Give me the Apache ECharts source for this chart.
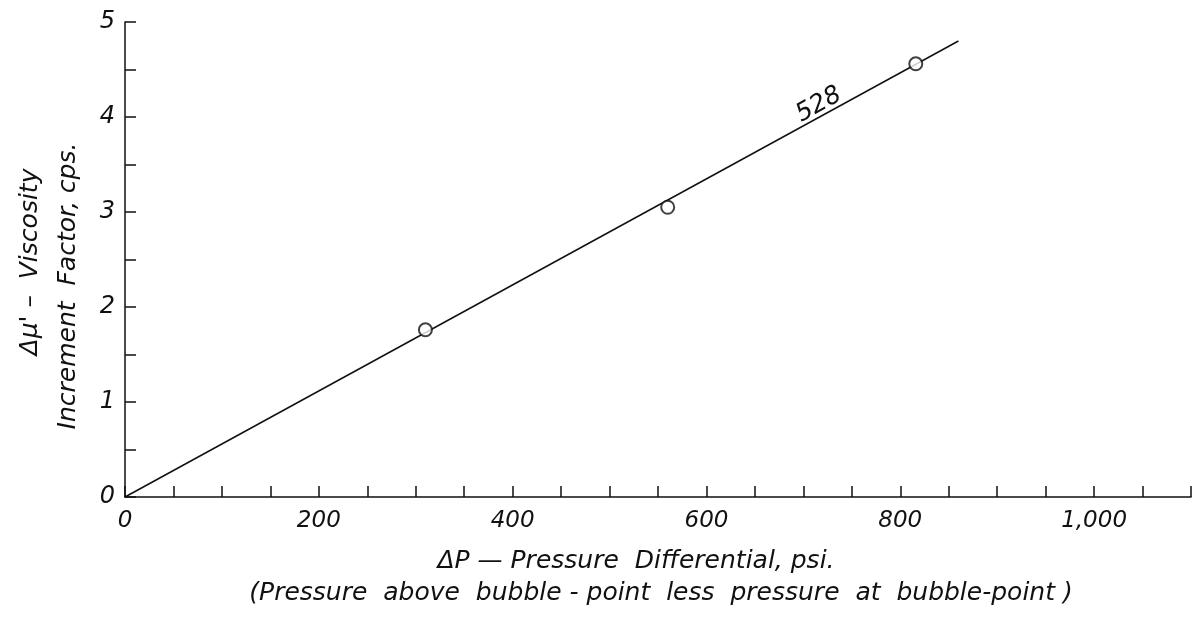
<!DOCTYPE html>
<html>
<head>
<meta charset="utf-8">
<script src="https://cdn.jsdelivr.net/npm/echarts@6/dist/echarts.min.js"></script>
<style>
html,body{margin:0;padding:0;background:#fff;}
#chart{width:1194px;height:617px;}
</style>
</head>
<body>
<div id="chart"></div>
<script>
// measured points (pressure differential psi, viscosity increment cps)
const pressure = [310, 560, 816]
const viscosity = [1.76, 3.05, 4.56]
// fitted line drawn through the origin
const fitX = [0, 860]
const fitY = [0, 4.8]
const fitName = '528'
const fitLabelAt = [716, 4.13]

const xTicks = [0, 200, 400, 600, 800, 1000]
const xTickText = ['0', '200', '400', '600', '800', '1,000']
const yTicks = [0, 1, 2, 3, 4, 5]

const hand = 'DejaVu Sans'
const ink = '#111'
const titleFont = 'italic 25px "DejaVu Sans"'

let chart = echarts.init(document.getElementById('chart'))
let options = {
  backgroundColor: '#fff',
  animation: false,
  grid: { left: 125, right: 2, top: 22, bottom: 120 },
  xAxis: {
    type: 'value',
    min: 0,
    max: 1100,
    interval: 50,
    axisLine: { show: true, onZero: false, lineStyle: { color: ink, width: 1.5 } },
    axisTick: { show: true, inside: true, length: 11, lineStyle: { color: ink, width: 1.5 } },
    splitLine: { show: false },
    axisLabel: {
      margin: 13,
      color: ink,
      fontFamily: hand,
      fontStyle: 'italic',
      fontSize: 23,
      showMaxLabel: true,
      formatter: (v) => {
        let i = xTicks.indexOf(v)
        return i >= 0 ? xTickText[i] : ''
      }
    }
  },
  yAxis: {
    type: 'value',
    min: 0,
    max: 5,
    interval: 0.5,
    axisLine: { show: true, onZero: false, lineStyle: { color: ink, width: 1.5 } },
    axisTick: { show: true, inside: true, length: 11, lineStyle: { color: ink, width: 1.5 } },
    splitLine: { show: false },
    axisLabel: {
      margin: 10,
      color: ink,
      fontFamily: hand,
      fontStyle: 'italic',
      fontSize: 24,
      formatter: (v) => yTicks.includes(v) ? String(v) : ''
    }
  },
  graphic: [
    {
      type: 'text', x: 30, y: 262, rotation: Math.PI / 2,
      style: { text: "Δμ' –  Viscosity", fill: ink, font: titleFont, align: 'center', verticalAlign: 'middle' }
    },
    {
      type: 'text', x: 68, y: 286, rotation: Math.PI / 2,
      style: { text: 'Increment  Factor, cps.', fill: ink, font: titleFont, align: 'center', verticalAlign: 'middle' }
    },
    {
      type: 'text', x: 636, y: 561,
      style: { text: 'ΔP — Pressure  Differential, psi.', fill: ink, font: titleFont, align: 'center', verticalAlign: 'middle' }
    },
    {
      type: 'text', x: 661, y: 593,
      style: { text: '(Pressure  above  bubble - point  less  pressure  at  bubble-point )', fill: ink, font: titleFont, align: 'center', verticalAlign: 'middle' }
    }
  ],
  series: [
    {
      name: fitName,
      type: 'line',
      data: fitX.map((x, i) => [x, fitY[i]]),
      symbol: 'none',
      lineStyle: { color: ink, width: 1.5 },
      markPoint: {
        symbol: 'circle',
        symbolSize: 1,
        itemStyle: { color: 'rgba(0,0,0,0)' },
        label: {
          show: true,
          position: 'inside',
          formatter: fitName,
          rotate: 29,
          color: ink,
          fontFamily: hand,
          fontStyle: 'italic',
          fontSize: 25
        },
        data: [{ coord: fitLabelAt }]
      },
      z: 2
    },
    {
      name: 'measured',
      type: 'scatter',
      data: pressure.map((x, i) => [x, viscosity[i]]),
      symbol: 'emptyCircle',
      symbolSize: 13,
      itemStyle: { color: ink, borderColor: ink, borderWidth: 1.8 },
      z: 3
    }
  ]
}
chart.setOption(options)
</script>
</body>
</html>
